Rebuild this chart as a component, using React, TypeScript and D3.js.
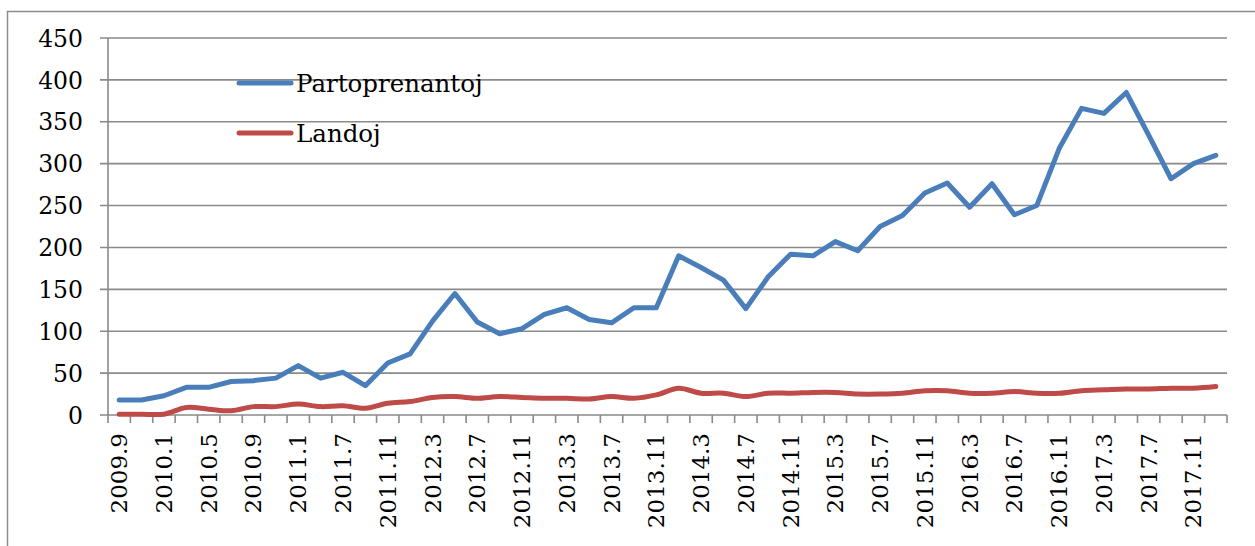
import React from "react";
import * as d3 from "d3";

const months = [
    "2009.9", "2009.11", "2010.1", "2010.3", "2010.5", "2010.7", "2010.9", "2010.11",
    "2011.1", "2011.4", "2011.7", "2011.9", "2011.11", "2012.1", "2012.3", "2012.5",
    "2012.7", "2012.9", "2012.11", "2013.1", "2013.3", "2013.5", "2013.7", "2013.9",
    "2013.11", "2014.1", "2014.3", "2014.5", "2014.7", "2014.9", "2014.11", "2015.1",
    "2015.3", "2015.5", "2015.7", "2015.9", "2015.11", "2016.1", "2016.3", "2016.5",
    "2016.7", "2016.9", "2016.11", "2017.1", "2017.3", "2017.5", "2017.7", "2017.9",
    "2017.11", "2018.1",
];

const partoprenantoj = [
    18, 18, 23, 33, 33, 40, 41, 44, 59, 44, 51, 35, 62, 73, 112, 145,
    111, 97, 103, 120, 128, 114, 110, 128, 128, 190, 176, 161, 127, 165, 192, 190,
    207, 196, 225, 238, 265, 277, 248, 276, 239, 250, 318, 366, 360, 385, 334, 282,
    300, 310,
];

const landoj = [
    1, 1, 1, 9, 7, 5, 10, 10, 13, 10, 11, 8, 14, 16, 21, 22,
    20, 22, 21, 20, 20, 19, 22, 20, 24, 32, 26, 26, 22, 26, 26, 27,
    27, 25, 25, 26, 29, 29, 26, 26, 28, 26, 26, 29, 30, 31, 31, 32,
    32, 34,
];

const yTicks = [0, 50, 100, 150, 200, 250, 300, 350, 400, 450];

const W = 1255;
const H = 546;
const plot = {left: 108, right: 1227, top: 38, bottom: 415};
const font = "'DejaVu Serif', serif";

export default function App() {
    const x = d3.scaleBand().domain(months).range([plot.left, plot.right]);
    const y = d3.scaleLinear().domain([0, 450]).range([plot.bottom, plot.top]);
    const cx = (i: number) => (x(months[i]) as number) + x.bandwidth() / 2;

    const straight = d3.line<number>()
        .x((d, i) => cx(i))
        .y(d => y(d));
    // the red series is drawn as a smoothed line
    const smooth = d3.line<number>()
        .x((d, i) => cx(i))
        .y(d => y(d))
        .curve(d3.curveCatmullRom.alpha(0.5));

    const tickXs = [...months.map(m => x(m) as number), plot.right];

    return (
        <svg width={W} height={H} style={{position: "absolute", left: 0, top: 0}}
             fontFamily={font}>
            <rect x={7.5} y={11.5} width={W + 10} height={H + 10} fill="white" stroke="#8c8c8c" strokeWidth={1.5}/>

            {yTicks.map(t => (
                <g key={t}>
                    <line x1={plot.left - 8} x2={plot.right} y1={y(t)} y2={y(t)} stroke="#8a8a8a" strokeWidth={1.6}/>
                    <text x={83} y={y(t)} dy="0.37em" textAnchor="end" fontSize={23.5} fill="#000">{t}</text>
                </g>
            ))}
            <line x1={plot.left} x2={plot.left} y1={plot.top} y2={plot.bottom} stroke="#8a8a8a" strokeWidth={1.6}/>

            {tickXs.map((tx, i) => (
                <line key={i} x1={tx} x2={tx} y1={plot.bottom} y2={plot.bottom + 8} stroke="#8a8a8a" strokeWidth={1.6}/>
            ))}

            {months.map((m, i) => i % 2 === 0 && (
                <text key={m} transform={`translate(${cx(i) + 8},${plot.bottom + 18}) rotate(-90)`}
                      textAnchor="end" fontSize={23} fill="#000">{m}</text>
            ))}

            <path d={smooth(landoj) as string} fill="none" stroke="#be4b48" strokeWidth={5} strokeLinecap="round" strokeLinejoin="round"/>
            <path d={straight(partoprenantoj) as string} fill="none" stroke="#4a7ebb" strokeWidth={5} strokeLinecap="round" strokeLinejoin="round"/>

            <g>
                <line x1={239} x2={291} y1={83} y2={83} stroke="#4a7ebb" strokeWidth={5} strokeLinecap="round"/>
                <text x={296} y={83} dy="0.37em" fontSize={24.5} fill="#000">Partoprenantoj</text>
                <line x1={239} x2={291} y1={133} y2={133} stroke="#be4b48" strokeWidth={5} strokeLinecap="round"/>
                <text x={296} y={133} dy="0.37em" fontSize={24.5} fill="#000">Landoj</text>
            </g>
        </svg>
    );
}
